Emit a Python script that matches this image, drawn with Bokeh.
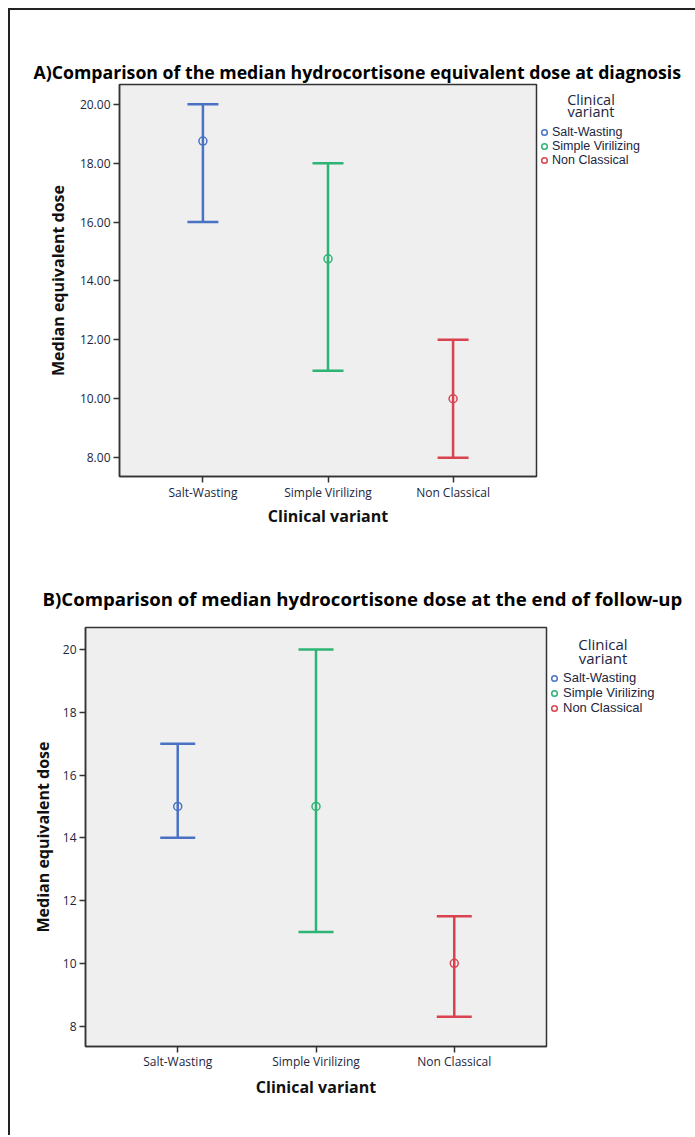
from bokeh.plotting import figure
from bokeh.models import (Range1d, FixedTicker, NumeralTickFormatter, Whisker, TeeHead,
                          ColumnDataSource, Legend, LegendItem, Title, Label)
from bokeh.embed import file_html
from bokeh.resources import INLINE

# ---------------- data ----------------
categories = ["Salt-Wasting", "Simple Virilizing", "Non Classical"]
positions = [1, 2, 3]
palette = ["#4a72c4", "#2db474", "#d8434f"]

diag_median = [18.75, 14.75, 10.0]
diag_lower = [16.0, 10.95, 8.0]
diag_upper = [20.0, 18.0, 12.0]

end_median = [15.0, 15.0, 10.0]
end_lower = [14.0, 11.0, 8.3]
end_upper = [17.0, 20.0, 11.5]

yticks = [8, 10, 12, 14, 16, 18, 20]
legend_title = "Clinical\nvariant"

FONT = "Open Sans"
LEG_FONT = "Liberation Sans"
TICK_COLOR = "#1c2640"
W = 682


def build(title, median, lower, upper, yfmt, L, styles):
    ml = L["fl"] - 10
    mt = L["ft"] - L["fig_top"]
    xr, yr = L["xr"], L["yr"]
    p = figure(title=None, x_range=Range1d(*xr), y_range=Range1d(*yr),
               frame_width=L["fw"], frame_height=L["fh"],
               min_border_left=ml, min_border_top=mt,
               min_border_right=W - ml - L["fw"],
               min_border_bottom=L["h"] - mt - L["fh"],
               output_backend="svg", toolbar_location=None, tools="",
               styles=styles)
    p.background_fill_color = "#efefef"
    p.border_fill_color = "white"
    p.outline_line_color = "#333333"
    p.outline_line_width = 1.5
    p.xgrid.visible = False
    p.ygrid.visible = False

    def X(px):
        return xr[0] + (px - L["fl"]) * (xr[1] - xr[0]) / L["fw"]

    def Y(py):
        return yr[1] - (py - L["ft"]) * (yr[1] - yr[0]) / L["fh"]

    # axes
    xa = p.xaxis[0]
    xa.ticker = FixedTicker(ticks=positions)
    xa.major_label_overrides = {pos: cat for pos, cat in zip(positions, categories)}
    ya = p.yaxis[0]
    ya.ticker = FixedTicker(ticks=yticks)
    ya.formatter = NumeralTickFormatter(format=yfmt)
    for ax in (xa, ya):
        ax.axis_line_color = "#333333"
        ax.axis_line_width = 1.5
        ax.major_tick_line_color = "#333333"
        ax.major_tick_line_width = 1.5
        ax.major_tick_in = 0
        ax.major_tick_out = 6
        ax.minor_tick_line_color = None
        ax.major_label_text_font = FONT
        ax.major_label_text_font_size = "12px"
        ax.major_label_text_color = TICK_COLOR
        ax.axis_label_text_font = FONT
        ax.axis_label_text_font_style = "bold"
        ax.axis_label_text_color = "#111111"
        ax.axis_label_text_font_size = "16px"
    xa.axis_label = "Clinical variant"
    xa.major_label_standoff = L["xls"]
    xa.axis_label_standoff = L["xas"]
    ya.axis_label = "Median equivalent dose"
    ya.major_label_standoff = 3
    ya.axis_label_standoff = L["yas"]

    # error bars
    for i in range(len(categories)):
        src = ColumnDataSource(dict(x=[positions[i]], lower=[lower[i]], upper=[upper[i]]))
        w = Whisker(base="x", lower="lower", upper="upper", source=src,
                    line_color=palette[i], line_width=2.5, level="glyph",
                    upper_head=TeeHead(size=L["cap"], line_color=palette[i], line_width=2.5),
                    lower_head=TeeHead(size=L["cap"], line_color=palette[i], line_width=2.5))
        p.add_layout(w)

    msrc = ColumnDataSource(dict(x=positions, median=median, color=palette, label=categories))
    r = p.scatter("x", "median", source=msrc, marker="circle", size=8,
                  fill_color=None, line_color="color", line_width=1.5)

    # legend (right side panel)
    items = [LegendItem(label=categories[i], renderers=[r], index=i) for i in range(len(categories))]
    legend = Legend(items=items, location=L["leg_loc"], orientation="vertical",
                    glyph_width=14, glyph_height=14, spacing=0, label_standoff=L["lso"],
                    padding=0, margin=0, label_height=12,
                    label_text_font=LEG_FONT, label_text_font_size=L["lfs"],
                    label_text_color=TICK_COLOR,
                    background_fill_alpha=0, border_line_alpha=0)
    p.add_layout(legend, "right")
    p.add_layout(Label(x=X(L["lt"][0]), y=Y(L["lt"][1]), text=legend_title,
                       text_align="center", text_baseline="middle",
                       text_font=FONT, text_font_size=L["ltfs"],
                       text_line_height=L["ltlh"], text_color=TICK_COLOR), "right")

    # title
    p.add_layout(Title(text=title, align="left", offset=L["title_off"],
                       standoff=L["title_so"], vertical_align="bottom",
                       text_font=FONT, text_font_style="bold",
                       text_font_size=L["tfs"], text_color="black"), "above")
    return p


LA = dict(fig_top=10, h=555, fl=119, ft=84, fw=417, fh=392,
          xr=(0.333, 3.667), yr=(7.36, 20.67), cap=31,
          xls=1, xas=1, yas=8, leg_loc=(1, 309), lso=1, lfs="12.5px",
          ltfs="14.5px", ltlh=0.68, lt=(590.5, 105),
          title_off=33 - 119, title_so=2, tfs="17.7px")
LB = dict(fig_top=565, h=570, fl=85, ft=627, fw=461, fh=419,
          xr=(0.333, 3.667), yr=(7.35, 20.70), cap=35,
          xls=0, xas=3, yas=6, leg_loc=(1, 331), lso=2, lfs="13px",
          ltfs="15px", ltlh=0.705, lt=(602.5, 650.5),
          title_off=42 - 85, title_so=34, tfs="18.6px")

pA = build("A)Comparison of the median hydrocortisone equivalent dose at diagnosis",
           diag_median, diag_lower, diag_upper, "0.00", LA,
           {"margin-left": "8px", "margin-top": "8px",
            "border-left": "2px solid #222222", "border-top": "2px solid #222222"})
pB = build("B)Comparison of median hydrocortisone dose at the end of follow-up",
           end_median, end_lower, end_upper, "0", LB,
           {"margin-left": "8px", "border-left": "2px solid #222222"})

open("out.html", "w").write(file_html([pA, pB], INLINE))
